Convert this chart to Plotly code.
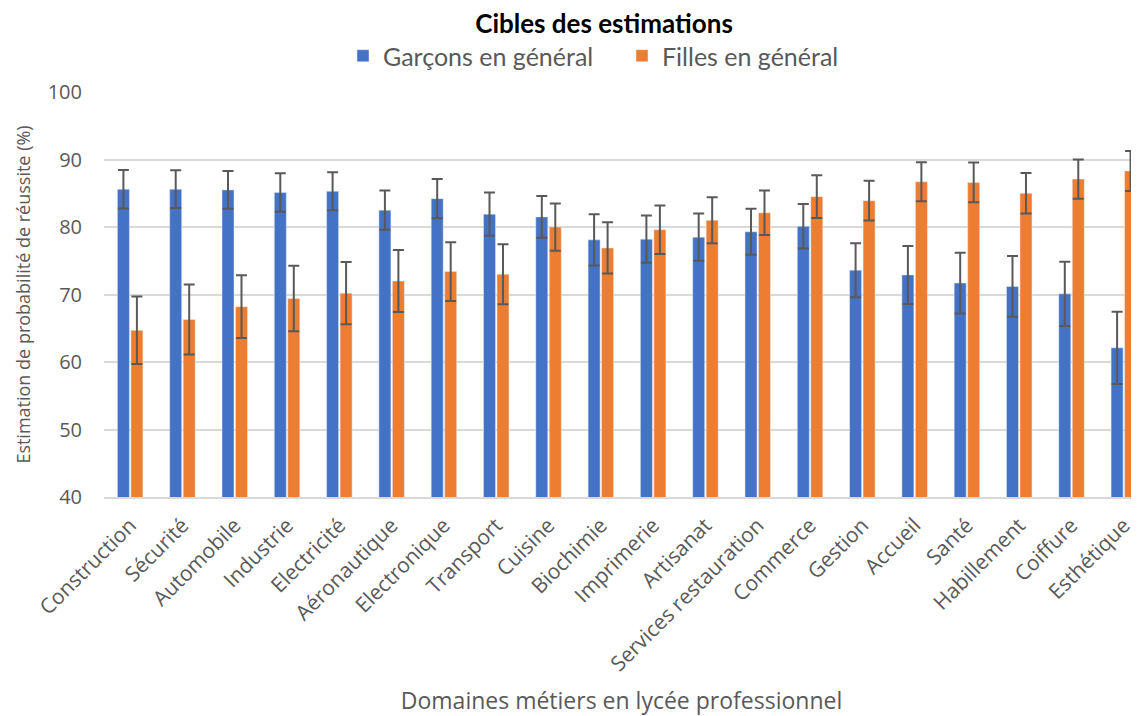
import plotly.graph_objects as go

categories = ["Construction", "Sécurité", "Automobile", "Industrie", "Electricité",
              "Aéronautique", "Electronique", "Transport", "Cuisine", "Biochimie",
              "Imprimerie", "Artisanat", "Services restauration", "Commerce", "Gestion",
              "Accueil", "Santé", "Habillement", "Coiffure", "Esthétique"]

garcons = [85.6, 85.6, 85.5, 85.1, 85.3, 82.5, 84.2, 81.9, 81.5, 78.1,
           78.2, 78.5, 79.3, 80.1, 73.6, 72.9, 71.7, 71.2, 70.1, 62.1]
garcons_err = [2.85, 2.8, 2.8, 2.85, 2.8, 2.9, 2.9, 3.2, 3.1, 3.8,
               3.5, 3.5, 3.4, 3.3, 4.0, 4.3, 4.5, 4.5, 4.75, 5.35]

filles = [64.7, 66.3, 68.2, 69.4, 70.2, 72.0, 73.4, 73.0, 80.0, 76.9,
          79.6, 81.0, 82.1, 84.5, 83.9, 86.7, 86.6, 85.0, 87.1, 88.3]
filles_err = [5.0, 5.2, 4.65, 4.85, 4.6, 4.6, 4.35, 4.45, 3.5, 3.8,
              3.6, 3.4, 3.3, 3.15, 2.95, 2.9, 2.95, 3.0, 2.9, 2.95]

y_ticks = [40, 50, 60, 70, 80, 90, 100]

err_style = dict(type="data", color="#595959", thickness=2, width=5.5, visible=True)

fig = go.Figure()
fig.add_trace(go.Bar(
    x=categories, y=garcons, name="Garçons en général",
    marker=dict(color="#4472C4"),
    error_y=dict(array=garcons_err, **err_style),
))
fig.add_trace(go.Bar(
    x=categories, y=filles, name="Filles en général",
    marker=dict(color="#ED7D31"),
    error_y=dict(array=filles_err, **err_style),
))

W, H = 1131, 708  # page body has an 8px margin

fig.update_layout(
    width=W, height=H,
    paper_bgcolor="white", plot_bgcolor="white",
    margin=dict(l=96, r=0, t=84, b=219, autoexpand=False),
    barmode="group", bargap=0.484, bargroupgap=0.11,
    font=dict(family="Open Sans", color="#595959"),
    title=dict(text="<b>Cibles des estimations</b>", x=596 / W, xanchor="center",
               xref="container", y=1 - 16 / H, yanchor="middle", yref="container",
               font=dict(family="Lato", size=26, color="black")),
    legend=dict(orientation="h", xref="container", x=335 / W, xanchor="left",
                yref="container", y=1 - 48 / H, yanchor="middle",
                font=dict(family="Lato", size=25, color="#595959"),
                entrywidth=234, entrywidthmode="pixels", itemwidth=30,
                bgcolor="rgba(0,0,0,0)"),
    showlegend=True,
)

fig.update_xaxes(
    type="category", range=[-0.5, 19.29], tickangle=-45,
    tickfont=dict(family="Open Sans", size=21, color="#595959"),
    showgrid=False, showline=True, linecolor="#D9D9D9", linewidth=1.5,
    ticks="", ticklabelstandoff=6, automargin=False,
    title=dict(text="Domaines métiers en lycée professionnel",
               font=dict(family="Open Sans", size=23, color="#595959"), standoff=20),
)
fig.update_yaxes(
    range=[40, 100], tickvals=y_ticks, ticktext=[str(v) for v in y_ticks],
    tickfont=dict(family="Open Sans", size=20, color="#595959"),
    showgrid=True, gridcolor="#D9D9D9", gridwidth=1.5, zeroline=False,
    showline=False, ticks="", ticklabelstandoff=21, automargin=False,
    title=dict(text="Estimation de probabilité de réussite (%)",
               font=dict(family="Open Sans", size=18, color="#595959"), standoff=12),
)

fig.write_html("out.html")
